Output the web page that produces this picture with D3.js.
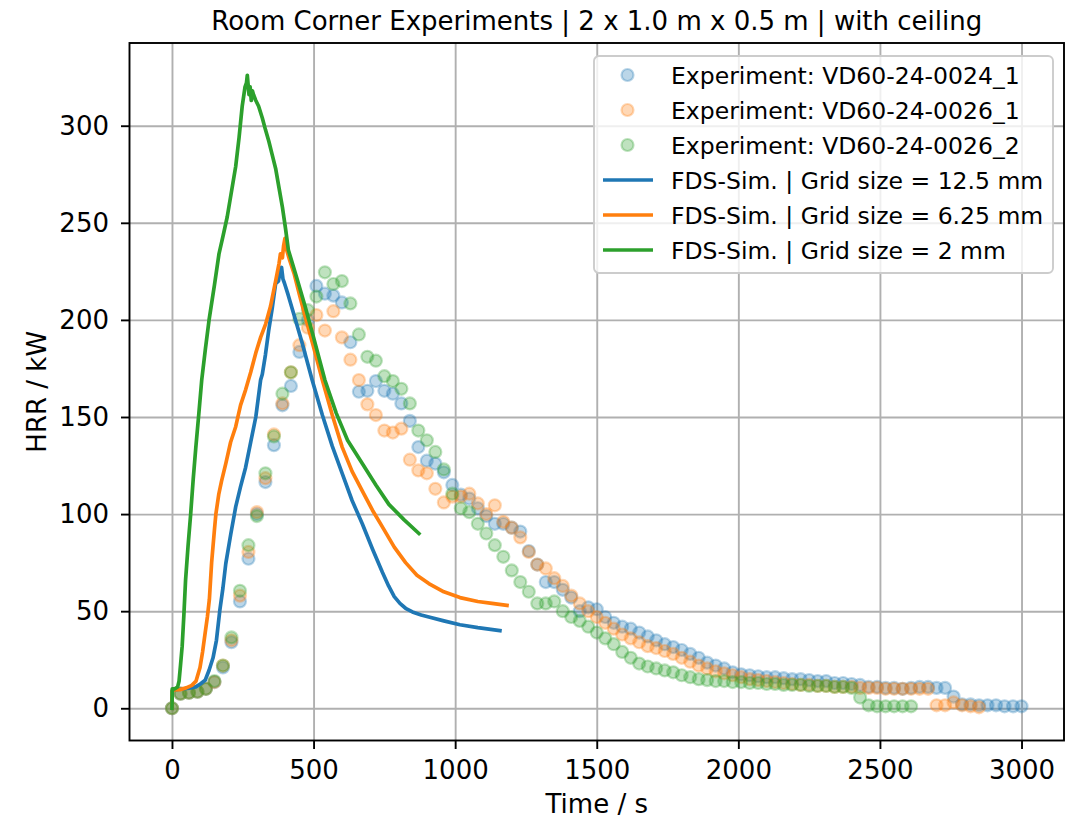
<!DOCTYPE html>
<html>
<head>
<meta charset="utf-8">
<script src="https://cdn.jsdelivr.net/npm/d3@7"></script>
<style>
  body { margin: 0; background: #fff; }
  text { font-family: "DejaVu Sans", sans-serif; fill: #000; }
</style>
</head>
<body>
<script>
// ---- data ----
const expTime = [0, 30, 60, 90, 120, 150, 180, 210, 240, 270, 300, 330, 360, 390, 420, 450, 480, 510, 540, 570,
  600, 630, 660, 690, 720, 750, 780, 810, 840, 870, 900, 930, 960, 990, 1020, 1050, 1080, 1110, 1140, 1170,
  1200, 1230, 1260, 1290, 1320, 1350, 1380, 1410, 1440, 1470, 1500, 1530, 1560, 1590, 1620, 1650, 1680, 1710, 1740, 1770,
  1800, 1830, 1860, 1890, 1920, 1950, 1980, 2010, 2040, 2070, 2100, 2130, 2160, 2190, 2220, 2250, 2280, 2310, 2340, 2370,
  2400, 2430, 2460, 2490, 2520, 2550, 2580, 2610, 2640, 2670, 2700, 2730, 2760, 2790, 2820, 2850, 2880, 2910, 2940, 2970, 3000]

const exp0024_1 = [0, 7.5, 8, 8.5, 10, 13.5, 21, 34, 55, 77, 100, 116.5, 135.5, 156, 166, 183.5, 200, 217.5, 213.5, 212.5,
  209, 188.5, 163, 163.5, 168.5, 163.5, 162, 157, 148, 134.5, 127.5, 126, 121.5, 115, 110, 108, 103, 99, 95, 95,
  93, 91, 81, 74, 65, 65, 61, 57, 50, 52, 51, 47, 44, 42, 41, 39, 37, 35, 33, 31.5,
  30, 28, 26, 23.5, 22, 20.5, 18.5, 17.5, 17, 16.5, 16, 16, 15.5, 15, 15, 14.5, 14, 14, 13, 13,
  12.5, 12, 11, 11, 10.5, 10.5, 10, 10.5, 11, 11, 10.5, 10.5, 6, 2, 2, 1.5, 1.5, 1.5, 1, 1, 1]

const exp0026_1 = [0, 7.5, 8, 8.5, 10, 13.5, 22, 35, 58, 80.5, 101, 118.5, 141, 157, 173, 187, 196, 202.5, 194.5, 204.5,
  191, 179.5, 169, 156.5, 151, 143, 142, 144, 128, 122.5, 121, 113, 106, 109, 109, 110.5, 105.5, 100, 104.5, 96,
  93, 88, 80.5, 74, 72, 67, 63, 58, 54, 50, 47, 44, 41, 38, 36, 34, 32, 31, 29.5, 28,
  26, 24, 22, 20.5, 19, 18, 17, 16, 15, 14.5, 14, 13.5, 13, 12.5, 12, 12, 11.5, 11.5, 11, 11,
  11, 10.5, 10.5, 10.5, 10, 10, 10, 10, 10, 10, 1.5, 1.5, 3, 1.5, 1, 0.5]

const exp0026_2 = [0, 7.5, 8, 8.5, 10, 14, 22, 36.5, 60.5, 84, 99, 121, 140, 162, 173, 200.5, 205, 212, 224.5, 218.5,
  220, 208.5, 192.5, 181, 179, 171, 168.5, 164.5, 157, 143, 138, 132, 123, 110.5, 103, 101, 95, 90, 84, 78,
  71, 65, 60, 54, 54, 55, 50, 47, 45, 42, 39, 36, 33, 29, 26, 23, 21.5, 20.5, 19.5, 18.5,
  17, 16, 15, 14.5, 14, 14, 13.5, 13.5, 13, 13, 12.5, 12.5, 12, 12, 12, 11.5, 11.5, 11.5, 11, 11,
  10.5, 5.5, 1.5, 1, 1, 1, 1, 1]

// FDS simulations
const sim125Time = [0, 1, 10, 28, 60, 84, 100, 117, 131, 145, 157, 169, 180, 190, 208, 225, 242, 260, 278, 296,
  313, 319, 330, 342, 354, 366, 376, 382, 387, 392, 397, 410, 430, 460, 495, 531, 566, 601, 636, 672,
  708, 743, 765, 785, 805, 825, 849, 880, 907, 960, 1017, 1080, 1158]
const sim125Hrr = [0, 9, 9.5, 9.8, 10.3, 11, 12.5, 14.4, 19.6, 26, 35, 50.5, 62, 74.5, 90, 103.7, 114, 124, 137, 150,
  169, 172, 182, 195, 206, 218.7, 220, 225, 227, 221, 219, 213, 203, 188, 169, 151, 135, 121, 107, 95,
  82, 70, 63, 57.5, 54, 51.5, 49.6, 48, 47, 45, 43, 41.5, 40]

const sim625Time = [0, 1, 10, 28, 50, 70, 85, 99, 108, 117, 125, 132, 140, 150, 155, 165, 175, 190, 207, 225,
  242, 260, 278, 296, 313, 331, 348, 366, 378, 383, 390, 394, 399, 405, 415, 431, 450, 470, 500, 531,
  566, 601, 636, 672, 708, 743, 785, 825, 865, 907, 960, 1017, 1080, 1130, 1183]
const sim625Hrr = [0, 9, 9.5, 9.6, 10.5, 11.8, 14, 21, 29, 38.6, 47, 56, 75, 92, 100, 110, 117, 126, 137, 145,
  156, 164, 173, 183, 191, 198, 207, 220, 229, 234, 232, 238, 242, 236, 231, 224, 213, 202, 186, 169,
  151, 134.5, 122, 112, 102, 93.4, 83, 75, 68.5, 64.2, 60, 57, 55, 54, 53]

const sim2Time = [0, 1, 10, 20, 25, 30, 36, 42, 48, 57, 66, 75, 84, 95, 105, 118, 131, 150, 166, 180,
  195, 210, 225, 237, 248, 258, 263, 266, 272, 276, 280, 284, 288, 296, 306, 319, 330, 342, 354, 366,
  378, 390, 401, 411, 440, 470, 500, 540, 580, 620, 672, 720, 766, 820, 872]
const sim2Hrr = [0, 10, 10, 11, 14, 22, 32, 48, 66, 84, 100, 118, 134, 152, 169, 185, 200, 218, 234, 243,
  253, 266, 279, 294, 310, 320, 322, 326, 316, 320, 313, 318, 316, 313, 310, 304, 298, 292, 285, 278,
  268, 258, 247, 236, 222, 207, 191, 169, 152, 138, 126, 115, 105, 97, 90]

const xTicks = [0, 500, 1000, 1500, 2000, 2500, 3000]
const yTicks = [0, 50, 100, 150, 200, 250, 300]

const titleText = 'Room Corner Experiments | 2 x 1.0 m x 0.5 m | with ceiling'

// ---- layout ----
const W = 1081, H = 822
const margin = {top: 43, bottom: 81.5, left: 129.5, right: 17}
const width = W - margin.left - margin.right
const height = H - margin.top - margin.bottom
const fontSize = 26     // ticks, title, axis labels
const legendSize = 23.5 // legend entries

const colors = {blue: '#1f77b4', orange: '#ff7f0e', green: '#2ca02c'}

const svg = d3.select('body').append('svg')
  .attr('width', W)
  .attr('height', H)

const g = svg.append('g')
  .attr('transform', `translate(${margin.left},${margin.top})`)

// scales (matplotlib style 5% margins)
const xscale = d3.scaleLinear().domain([-150, 3150]).range([0, width])
const yscale = d3.scaleLinear().domain([-16.6, 342.6]).range([height, 0])

// grid
g.append('g').attr('class', 'grid x')
  .attr('transform', `translate(0,${height})`)
  .call(d3.axisBottom(xscale).tickValues(xTicks).tickSize(-height).tickFormat(''))
g.append('g').attr('class', 'grid y')
  .call(d3.axisLeft(yscale).tickValues(yTicks).tickSize(-width).tickFormat(''))
g.selectAll('.grid .domain').remove()
g.selectAll('.grid line').attr('stroke', '#b0b0b0').attr('stroke-width', 1.9)

// experiment markers
const experiments = [
  {name: 'Experiment: VD60-24-0024_1', values: exp0024_1, color: colors.blue},
  {name: 'Experiment: VD60-24-0026_1', values: exp0026_1, color: colors.orange},
  {name: 'Experiment: VD60-24-0026_2', values: exp0026_2, color: colors.green}
]
const sims = [
  {name: 'FDS-Sim. | Grid size = 12.5 mm', t: sim125Time, v: sim125Hrr, color: colors.blue},
  {name: 'FDS-Sim. | Grid size = 6.25 mm', t: sim625Time, v: sim625Hrr, color: colors.orange},
  {name: 'FDS-Sim. | Grid size = 2 mm', t: sim2Time, v: sim2Hrr, color: colors.green}
]

experiments.forEach((e) => {
  g.append('g').selectAll('circle')
    .data(e.values.map((v, i) => ({t: expTime[i], v: v})))
    .join('circle')
    .attr('cx', (d) => xscale(d.t))
    .attr('cy', (d) => yscale(d.v))
    .attr('r', 6)
    .attr('fill', e.color).attr('fill-opacity', 0.3)
    .attr('stroke', e.color).attr('stroke-opacity', 0.3).attr('stroke-width', 2.2)
})

// simulation lines
const line = d3.line().x((d) => xscale(d[0])).y((d) => yscale(d[1]))
sims.forEach((s) => {
  g.append('path')
    .datum(s.t.map((t, i) => [t, s.v[i]]))
    .attr('d', line)
    .attr('fill', 'none')
    .attr('stroke', s.color)
    .attr('stroke-width', 3.7)
    .attr('stroke-linejoin', 'round')
    .attr('stroke-linecap', 'square')
})

// axes
const xaxis = g.append('g').attr('transform', `translate(0,${height})`)
  .call(d3.axisBottom(xscale).tickValues(xTicks).tickSize(8.5).tickPadding(12).tickFormat(d3.format('d')))
const yaxis = g.append('g')
  .call(d3.axisLeft(yscale).tickValues(yTicks).tickSize(8.5).tickPadding(12).tickFormat(d3.format('d')))
;[xaxis, yaxis].forEach((a) => {
  a.select('.domain').remove()
  a.selectAll('line').attr('stroke', '#000').attr('stroke-width', 1.9)
  a.selectAll('text').style('font-size', fontSize + 'px').attr('fill', '#000')
})

// spines
g.append('rect')
  .attr('width', width).attr('height', height)
  .attr('fill', 'none').attr('stroke', '#000').attr('stroke-width', 1.9)

// legend
const legend = svg.append('g').attr('transform', 'translate(594,56)')
legend.append('rect')
  .attr('width', 459).attr('height', 217)
  .attr('rx', 5).attr('ry', 5)
  .attr('fill', '#fff').attr('fill-opacity', 0.8)
  .attr('stroke', '#cccccc').attr('stroke-width', 1.9)

const rowY = (i) => 19 + i * 35
experiments.forEach((e, i) => {
  legend.append('circle')
    .attr('cx', 33.5).attr('cy', rowY(i)).attr('r', 6)
    .attr('fill', e.color).attr('fill-opacity', 0.3)
    .attr('stroke', e.color).attr('stroke-opacity', 0.3).attr('stroke-width', 2.2)
})
sims.forEach((s, i) => {
  legend.append('line')
    .attr('x1', 9).attr('x2', 59)
    .attr('y1', rowY(i + 3)).attr('y2', rowY(i + 3))
    .attr('stroke', s.color).attr('stroke-width', 3.7)
})
legend.selectAll('text.lbl')
  .data(experiments.map((e) => e.name).concat(sims.map((s) => s.name)))
  .join('text')
  .attr('class', 'lbl')
  .attr('x', 77)
  .attr('y', (d, i) => rowY(i) + 8.5)
  .style('font-size', legendSize + 'px')
  .text((d) => d)

// title and axis labels
svg.append('text')
  .attr('x', margin.left + width / 2).attr('y', 30)
  .attr('text-anchor', 'middle')
  .style('font-size', fontSize + 'px')
  .text(titleText)

svg.append('text')
  .attr('x', margin.left + width / 2).attr('y', 813)
  .attr('text-anchor', 'middle')
  .style('font-size', fontSize + 'px')
  .text('Time / s')

svg.append('text')
  .attr('transform', `translate(46,${margin.top + height / 2}) rotate(-90)`)
  .attr('text-anchor', 'middle')
  .style('font-size', fontSize + 'px')
  .text('HRR / kW')
</script>
</body>
</html>
